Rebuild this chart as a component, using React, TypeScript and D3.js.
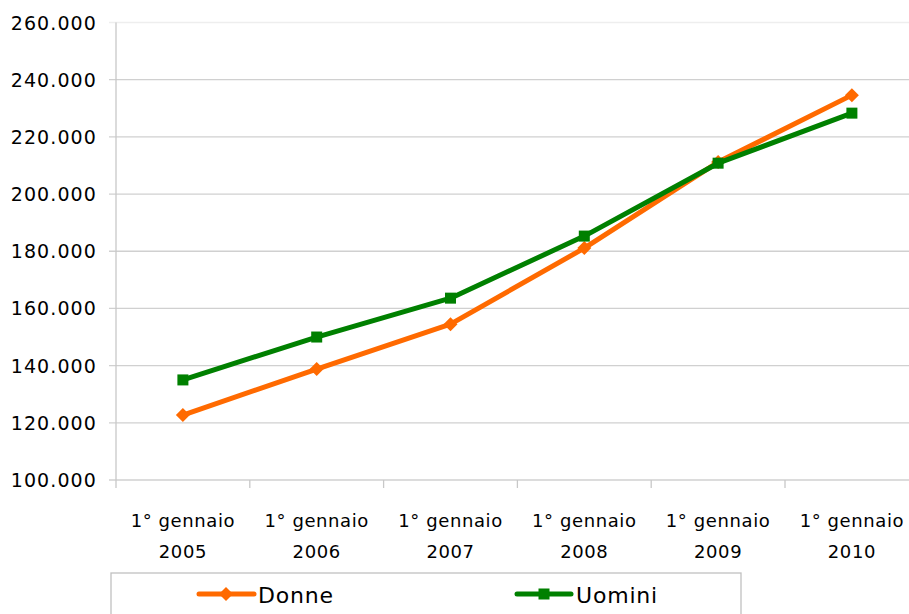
import React from "react";
import * as d3 from "d3";

const categories = ["2005", "2006", "2007", "2008", "2009", "2010"];
const donne = [122700, 138800, 154500, 181100, 211200, 234600];
const uomini = [135000, 150000, 163600, 185300, 210800, 228300];
const yTicks = [100000, 120000, 140000, 160000, 180000, 200000, 220000, 240000, 260000];

const W = 909, H = 614;
const left = 116, top = 22.5, bottom = 480;
const band = 133.8;
const FONT = "'DejaVu Sans', Verdana, sans-serif";

export default function App() {
  const x = d3.scaleBand<string>().domain(categories).range([left, left + band * 6]);
  const y = d3.scaleLinear().domain([100000, 260000]).range([bottom, top]);
  const fmt = (v: number) => d3.format(",")(v).replace(/,/g, ".");
  const line = d3.line<number>()
    .x((_, i) => (x(categories[i]) as number) + x.bandwidth() / 2)
    .y((d) => y(d));
  const cx = (i: number) => (x(categories[i]) as number) + x.bandwidth() / 2;

  const diamond = (px: number, py: number, r: number) =>
    `M${px},${py - r}L${px + r},${py}L${px},${py + r}L${px - r},${py}Z`;

  return (
    <svg width={W} height={H} style={{ position: "absolute", left: 0, top: 0, background: "#fff" }}>
      {yTicks.map((t, i) => (
        <g key={t}>
          <line x1={109} x2={W} y1={y(t)} y2={y(t)} stroke={i === yTicks.length - 1 ? "#eeeeee" : "#d0d0d0"} strokeWidth={1.3} />
          <text x={97} y={y(t) + 7} textAnchor="end" fontFamily={FONT} fontSize={19} letterSpacing={1.1} fill="#000">
            {fmt(t)}
          </text>
        </g>
      ))}
      <line x1={left} x2={left} y1={top} y2={488} stroke="#c8c8c8" strokeWidth={1.3} />
      {categories.map((c, i) => (
        <g key={c}>
          <line x1={(x(c) as number) + band} x2={(x(c) as number) + band} y1={bottom} y2={488} stroke="#c8c8c8" strokeWidth={1.3} />
          <text x={cx(i)} y={527} textAnchor="middle" fontFamily={FONT} fontSize={18} letterSpacing={0.6} fill="#000">
            1° gennaio
          </text>
          <text x={cx(i)} y={558} textAnchor="middle" fontFamily={FONT} fontSize={18} letterSpacing={0.6} fill="#000">
            {c}
          </text>
        </g>
      ))}
      <path d={line(donne) as string} fill="none" stroke="#FF6A00" strokeWidth={5} strokeLinejoin="round" />
      {donne.map((v, i) => (
        <path key={i} d={diamond(cx(i), y(v), 7)} fill="#FF6A00" />
      ))}
      <path d={line(uomini) as string} fill="none" stroke="#008000" strokeWidth={5} strokeLinejoin="round" />
      {uomini.map((v, i) => (
        <rect key={i} x={cx(i) - 5.5} y={y(v) - 5.5} width={11} height={11} fill="#008000" />
      ))}
      <rect x={111} y={573} width={630} height={60} fill="#fff" stroke="#c0c0c0" strokeWidth={1.3} />
      <line x1={199} x2={254} y1={594} y2={594} stroke="#FF6A00" strokeWidth={5} strokeLinecap="round" />
      <path d={diamond(226, 594, 7)} fill="#FF6A00" />
      <text x={258} y={603} fontFamily={FONT} fontSize={22} letterSpacing={0.8} fill="#000">Donne</text>
      <line x1={517} x2={571} y1={594} y2={594} stroke="#008000" strokeWidth={5} strokeLinecap="round" />
      <rect x={538.5} y={588.5} width={11} height={11} fill="#008000" />
      <text x={576} y={603} fontFamily={FONT} fontSize={22} letterSpacing={0.8} fill="#000">Uomini</text>
    </svg>
  );
}
